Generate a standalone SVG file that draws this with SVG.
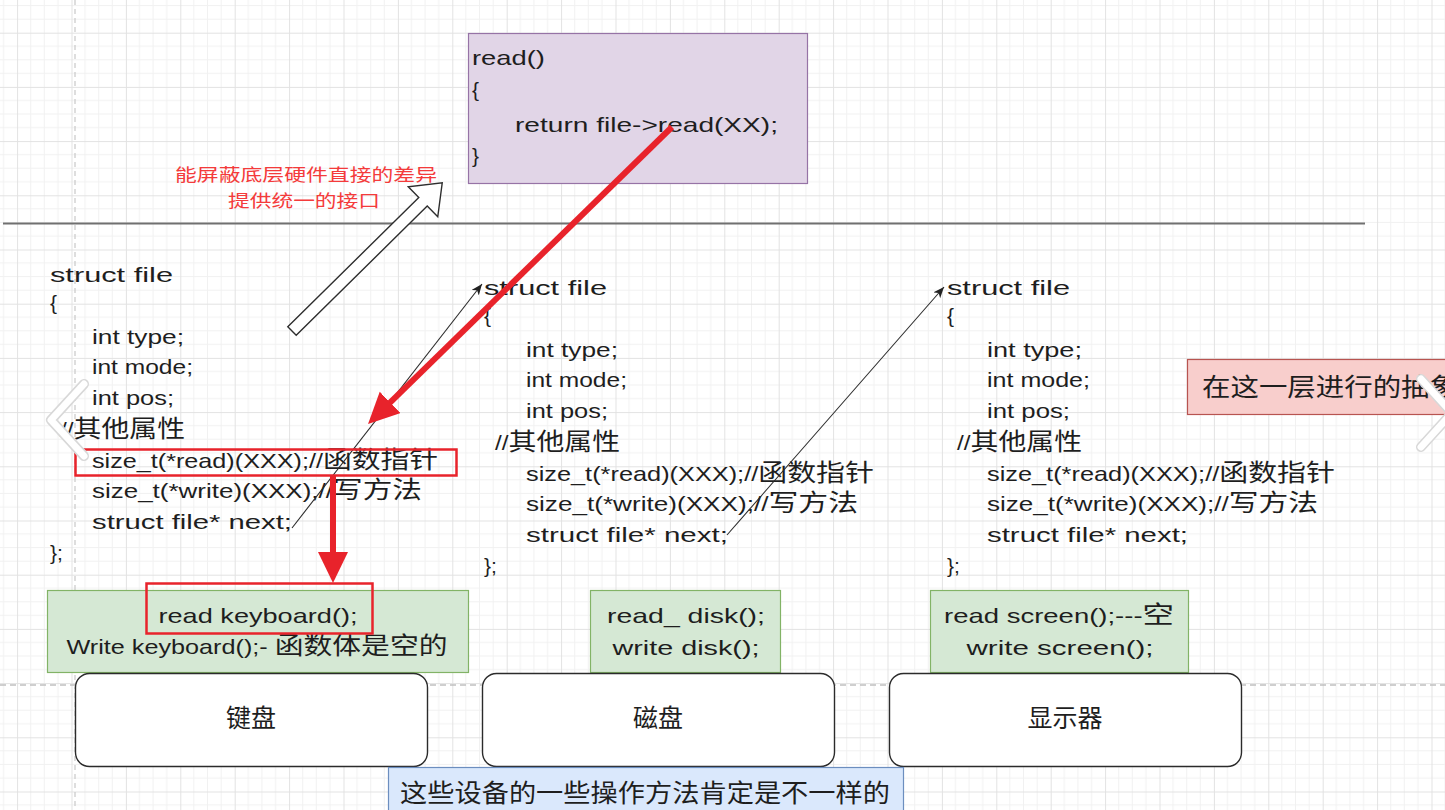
<svg xmlns="http://www.w3.org/2000/svg" width="1445" height="810" viewBox="0 0 1445 810">
<defs>
<pattern id="grid" patternUnits="userSpaceOnUse" x="17.1" y="32.7" width="54.4" height="54.2">
<path d="M13.6 0V54.2M27.2 0V54.2M40.8 0V54.2M0 13.55H54.4M0 27.1H54.4M0 40.65H54.4" stroke="#f1f1f1" stroke-width="1" fill="none"/>
<path d="M0.5 0V54.2M0 0.5H54.4" stroke="#e2e2e2" stroke-width="1" fill="none"/>
</pattern>
<marker id="redHead" markerUnits="userSpaceOnUse" markerWidth="34" markerHeight="32" refX="1" refY="15" orient="auto">
<path d="M0,0 L31,15 L0,30 Z" fill="#e8232b"/>
</marker>
<marker id="thinHead" markerUnits="userSpaceOnUse" markerWidth="13" markerHeight="10" refX="11" refY="4.5" orient="auto">
<path d="M0,0 L11,4.5 L0,9 L3,4.5 Z" fill="#222"/>
</marker>
</defs>
<style>
.hw{font-family:"Liberation Sans","Noto Sans CJK SC",sans-serif;font-size:21px;fill:#1e1e1e}
.cj{font-size:24px}
.red{font-family:"Noto Sans CJK SC","Liberation Sans",sans-serif;font-size:17.5px;fill:#f43b3b}
.lbl{font-family:"Noto Sans CJK SC","Liberation Sans",sans-serif;font-size:25px;fill:#1e1e1e}
.dev{fill:#ffffff;stroke:#2b2b2b;stroke-width:1.4}
.grn{fill:#d5e8d4;stroke:#82b366;stroke-width:1.2}
.hl{fill:none;stroke:#e8232b;stroke-width:2.5}
.thin{fill:none;stroke:#2a2a2a;stroke-width:1.1;marker-end:url(#thinHead)}
.thick{fill:none;stroke:#e8232b;stroke-width:6;marker-end:url(#redHead)}
.chev{fill:none;stroke-linecap:round;stroke-linejoin:round}
</style>
<rect x="0" y="0" width="1445" height="810" fill="#ffffff"/>
<rect x="0" y="0" width="1445" height="810" fill="url(#grid)"/>
<line x1="75" y1="0" x2="75" y2="810" stroke="#c8c8c8" stroke-width="1.2" stroke-dasharray="5 4"/>
<line x1="0" y1="685" x2="1445" y2="685" stroke="#c0c0c0" stroke-width="1.5" stroke-dasharray="6 4"/>

<g id="separator">
<line x1="3" y1="223.5" x2="1365" y2="223.5" stroke="#707070" stroke-width="2"/>
</g>

<g id="read-func">
<rect x="468.5" y="33.5" width="339" height="150" fill="#e1d5e7" stroke="#9673a6" stroke-width="1.2"/>
<text class="hw" x="472" y="65" textLength="73" lengthAdjust="spacingAndGlyphs">read()</text>
<text class="hw" x="472" y="97">{</text>
<text class="hw" x="515" y="132" textLength="263" lengthAdjust="spacingAndGlyphs">return file-&gt;read(XX);</text>
<text class="hw" x="472" y="163">}</text>
</g>

<g id="note-red">
<text class="red" x="306" y="181" text-anchor="middle" textLength="262" lengthAdjust="spacingAndGlyphs">能屏蔽底层硬件直接的差异</text>
<text class="red" x="304" y="207" text-anchor="middle" textLength="152" lengthAdjust="spacingAndGlyphs">提供统一的接口</text>
</g>

<g id="struct-keyboard">
<text class="hw" x="50" y="282" textLength="123" lengthAdjust="spacingAndGlyphs">struct file</text>
<text class="hw" x="50" y="310">{</text>
<text class="hw" x="92" y="344" textLength="92" lengthAdjust="spacingAndGlyphs">int type;</text>
<text class="hw" x="92" y="374" textLength="101" lengthAdjust="spacingAndGlyphs">int mode;</text>
<text class="hw" x="92" y="405" textLength="82" lengthAdjust="spacingAndGlyphs">int pos;</text>
<text class="hw" x="60" y="437" textLength="125" lengthAdjust="spacingAndGlyphs">//<tspan class="cj">其他属性</tspan></text>
<text class="hw" x="92" y="468" textLength="346" lengthAdjust="spacingAndGlyphs">size_t(*read)(XXX);//<tspan class="cj">函数指针</tspan></text>
<text class="hw" x="92" y="498" textLength="330" lengthAdjust="spacingAndGlyphs">size_t(*write)(XXX);//<tspan class="cj">写方法</tspan></text>
<text class="hw" x="92" y="529" textLength="200" lengthAdjust="spacingAndGlyphs">struct file* next;</text>
<text class="hw" x="50" y="560">};</text>
</g>

<g id="struct-disk">
<text class="hw" x="484" y="295" textLength="123" lengthAdjust="spacingAndGlyphs">struct file</text>
<text class="hw" x="484" y="323">{</text>
<text class="hw" x="526" y="357" textLength="92" lengthAdjust="spacingAndGlyphs">int type;</text>
<text class="hw" x="526" y="387" textLength="101" lengthAdjust="spacingAndGlyphs">int mode;</text>
<text class="hw" x="526" y="418" textLength="82" lengthAdjust="spacingAndGlyphs">int pos;</text>
<text class="hw" x="495" y="450" textLength="125" lengthAdjust="spacingAndGlyphs">//<tspan class="cj">其他属性</tspan></text>
<text class="hw" x="526" y="481" textLength="348" lengthAdjust="spacingAndGlyphs">size_t(*read)(XXX);//<tspan class="cj">函数指针</tspan></text>
<text class="hw" x="526" y="511" textLength="332" lengthAdjust="spacingAndGlyphs">size_t(*write)(XXX);//<tspan class="cj">写方法</tspan></text>
<text class="hw" x="526" y="542" textLength="202" lengthAdjust="spacingAndGlyphs">struct file* next;</text>
<text class="hw" x="484" y="573">};</text>
</g>

<g id="struct-screen">
<text class="hw" x="947" y="295" textLength="123" lengthAdjust="spacingAndGlyphs">struct file</text>
<text class="hw" x="947" y="323">{</text>
<text class="hw" x="987" y="357" textLength="95" lengthAdjust="spacingAndGlyphs">int type;</text>
<text class="hw" x="987" y="387" textLength="103" lengthAdjust="spacingAndGlyphs">int mode;</text>
<text class="hw" x="987" y="418" textLength="83" lengthAdjust="spacingAndGlyphs">int pos;</text>
<text class="hw" x="957" y="450" textLength="125" lengthAdjust="spacingAndGlyphs">//<tspan class="cj">其他属性</tspan></text>
<text class="hw" x="987" y="481" textLength="348" lengthAdjust="spacingAndGlyphs">size_t(*read)(XXX);//<tspan class="cj">函数指针</tspan></text>
<text class="hw" x="987" y="511" textLength="331" lengthAdjust="spacingAndGlyphs">size_t(*write)(XXX);//<tspan class="cj">写方法</tspan></text>
<text class="hw" x="987" y="542" textLength="201" lengthAdjust="spacingAndGlyphs">struct file* next;</text>
<text class="hw" x="947" y="573">};</text>
</g>

<g id="note-abstract">
<rect x="1187.5" y="359.5" width="270" height="55" fill="#f8cecc" stroke="#b85450" stroke-width="1.2"/>
<text class="lbl" x="1202" y="396" font-size="27" textLength="256" lengthAdjust="spacingAndGlyphs">在这一层进行的抽象</text>
</g>

<g id="ops-keyboard">
<rect class="grn" x="47.5" y="590.5" width="421" height="82"/>
<text class="hw" x="258" y="623" text-anchor="middle" textLength="199" lengthAdjust="spacingAndGlyphs">read keyboard();</text>
<text class="hw" x="257" y="654" text-anchor="middle" textLength="381" lengthAdjust="spacingAndGlyphs">Write keyboard();- <tspan class="cj">函数体是空的</tspan></text>
</g>

<g id="ops-disk">
<rect class="grn" x="590.5" y="590.5" width="190" height="82"/>
<text class="hw" x="686" y="623" text-anchor="middle" textLength="158" lengthAdjust="spacingAndGlyphs">read_ disk();</text>
<text class="hw" x="686" y="655" text-anchor="middle" textLength="147" lengthAdjust="spacingAndGlyphs">write disk();</text>
</g>

<g id="ops-screen">
<rect class="grn" x="930.5" y="590.5" width="258" height="82"/>
<text class="hw" x="1059" y="623" text-anchor="middle" textLength="230" lengthAdjust="spacingAndGlyphs">read screen();---<tspan class="cj">空</tspan></text>
<text class="hw" x="1060" y="655" text-anchor="middle" textLength="187" lengthAdjust="spacingAndGlyphs">write screen();</text>
</g>

<g id="dev-keyboard">
<rect class="dev" x="75.5" y="673.5" width="352" height="93" rx="14"/>
<text class="lbl" x="251" y="727" text-anchor="middle">键盘</text>
</g>
<g id="dev-disk">
<rect class="dev" x="482.5" y="673.5" width="352" height="93" rx="14"/>
<text class="lbl" x="658" y="727" text-anchor="middle">磁盘</text>
</g>
<g id="dev-screen">
<rect class="dev" x="889.5" y="673.5" width="352" height="93" rx="14"/>
<text class="lbl" x="1065" y="727" text-anchor="middle">显示器</text>
</g>

<g id="note-differ">
<rect x="388.5" y="767.5" width="515" height="50" fill="#dae8fc" stroke="#6c8ebf" stroke-width="1.2"/>
<text class="lbl" x="645" y="802" text-anchor="middle" font-size="27" textLength="490" lengthAdjust="spacingAndGlyphs">这些设备的一些操作方法肯定是不一样的</text>
</g>

<g id="connectors">
<polygon transform="translate(292,331) rotate(-44.6)" points="0,-6 184,-6 184,-21 211,0 184,21 184,6 0,6" fill="#ffffff" stroke="#2e2e2e" stroke-width="1.4" stroke-linejoin="miter"/>
<line class="thin" x1="292" y1="528" x2="482" y2="284"/>
<line class="thin" x1="727" y1="535" x2="944" y2="287"/>
<line class="thick" x1="672" y1="127" x2="389.5" y2="403.1"/>
<line class="thick" x1="333" y1="475" x2="333" y2="553"/>
<rect class="hl" x="75.5" y="449.5" width="381" height="26"/>
<rect class="hl" x="146.5" y="583.5" width="226" height="50"/>
</g>

<g id="nav">
<polyline class="chev" points="84,384 51,420 84,456" stroke="#d8d8d8" stroke-width="10"/>
<polyline class="chev" points="84,384 51,420 84,456" stroke="#ffffff" stroke-width="7"/>
<polyline class="chev" points="1421,379 1452,413 1421,447" stroke="#d8d8d8" stroke-width="10"/>
<polyline class="chev" points="1421,379 1452,413 1421,447" stroke="#ffffff" stroke-width="7"/>
</g>
</svg>
